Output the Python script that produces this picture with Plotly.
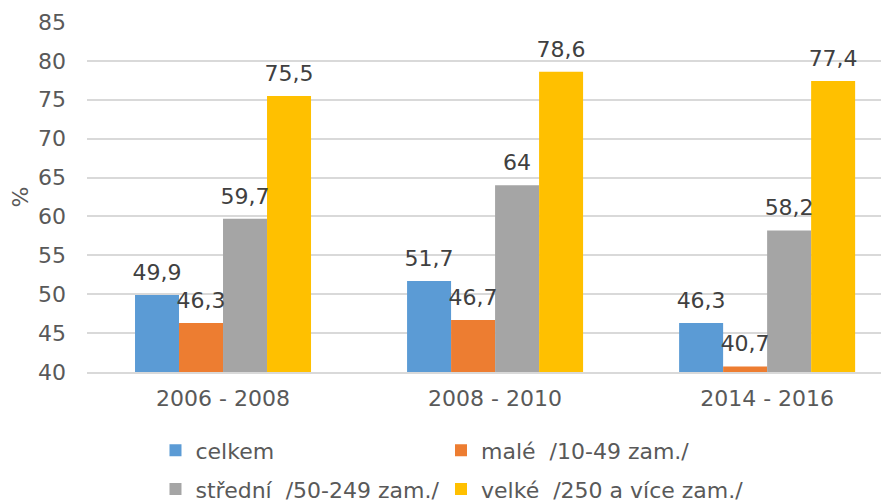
import plotly.graph_objects as go

categories = ["2006 - 2008", "2008 - 2010", "2014 - 2016"]
series_names = ["celkem", "malé  /10-49 zam./", "střední  /50-249 zam./", "velké  /250 a více zam./"]
celkem = [49.9, 51.7, 46.3]
male = [46.3, 46.7, 40.7]
stredni = [59.7, 64.0, 58.2]
velke = [75.5, 78.6, 77.4]
y_ticks = [40, 45, 50, 55, 60, 65, 70, 75, 80, 85]

colors = ["#5B9BD5", "#ED7D31", "#A5A5A5", "#FFC000"]
legend_ids = ["legend", "legend2", "legend3", "legend4"]
FONT = "Verdana, DejaVu Sans, sans-serif"
TXT = "#595959"
FS = 22


def fmt(v):
    return f"{v:g}".replace(".", ",")


fig = go.Figure()
for name, vals, col, lg in zip(series_names, [celkem, male, stredni, velke], colors, legend_ids):
    fig.add_trace(go.Bar(
        x=categories, y=vals, name=name, marker=dict(color=col, line=dict(width=0)),
        legend=lg, offsetgroup=name,
    ))
for name, vals in zip(series_names, [celkem, male, stredni, velke]):
    fig.add_trace(go.Scatter(
        x=categories, y=vals, mode="markers+text", text=[fmt(v) for v in vals],
        textposition="top center", textfont=dict(size=FS, color="#404040", family=FONT),
        marker=dict(size=14, color="rgba(0,0,0,0)"), showlegend=False, hoverinfo="skip",
        offsetgroup=name, cliponaxis=False,
    ))

leg_common = dict(orientation="h", xanchor="left", yanchor="middle",
                  font=dict(size=FS, color=TXT), bgcolor="rgba(0,0,0,0)")
col_x = [0.0854, 0.4414]
row_y = [-0.224, -0.335]

# page body has an 8px margin, so the figure is sized to end at the window edge
fig.update_layout(
    width=881, height=493,
    margin=dict(l=79, r=0, t=14, b=129, autoexpand=False),
    paper_bgcolor="white", plot_bgcolor="white",
    barmode="group", bargap=0.353, bargroupgap=0,
    scattermode="group", scattergap=0.353,
    font=dict(family=FONT, color=TXT, size=FS),
    xaxis=dict(range=[-0.5, 2.448], showgrid=False, showline=True, linecolor="#D9D9D9",
               linewidth=1.5, ticks="", tickfont=dict(size=FS, color=TXT), ticklabelstandoff=6,
               automargin=False),
    yaxis=dict(range=[40, 85], tickvals=y_ticks, showgrid=True, gridcolor="#D9D9D9", gridwidth=1.5,
               zeroline=False, showline=False, ticks="", tickfont=dict(size=FS, color=TXT),
               ticklabelstandoff=20, automargin=False,
               title=dict(text="%", font=dict(size=FS, color=TXT), standoff=5)),
    legend=dict(x=col_x[0], y=row_y[0], **leg_common),
    legend2=dict(x=col_x[1], y=row_y[0], **leg_common),
    legend3=dict(x=col_x[0], y=row_y[1], **leg_common),
    legend4=dict(x=col_x[1], y=row_y[1], **leg_common),
    showlegend=True,
)

fig.write_html("out.html")
